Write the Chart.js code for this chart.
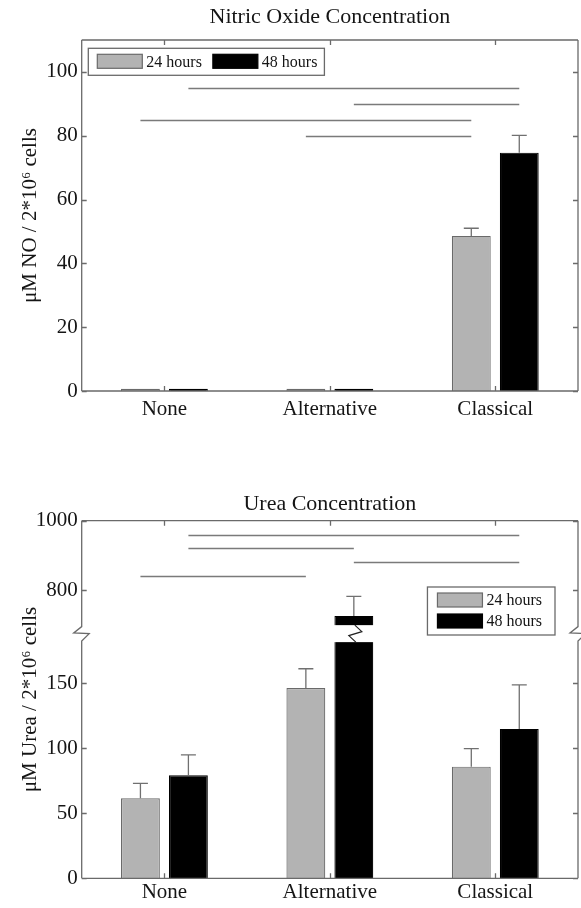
<!DOCTYPE html>
<html>
<head>
<meta charset="utf-8">
<script src="https://cdn.jsdelivr.net/npm/chart.js@4.4.0/dist/chart.umd.min.js"></script>
<style>
  body { margin: 0; background: #fff; }
  .wrap { width: 581px; height: 454px; }
  canvas { display: block; }
</style>
</head>
<body>
<div class="wrap"><canvas id="noChart" width="581" height="454"></canvas></div>
<div class="wrap"><canvas id="ureaChart" width="581" height="454"></canvas></div>
<script>
const groups = ['None', 'Alternative', 'Classical'];
const seriesNames = ['24 hours', '48 hours'];

// nitric oxide (uM / 2*10^6 cells), mean and SD
const no24 = [0.7, 0.7, 48.6];
const no48 = [0.7, 0.7, 74.7];
const no24Sd = [0, 0, 2.4];
const no48Sd = [0, 0, 5.4];
const noTicks = [0, 20, 40, 60, 80, 100];
// significance bars: [group, series] -> [group, series] at a height
const noSigFrom = [[0, 1], [1, 1], [0, 0], [1, 0]];
const noSigTo = [[2, 1], [2, 1], [2, 0], [2, 0]];
const noSigAt = [95, 90, 85, 80];

// urea (uM / 2*10^6 cells)
const urea24 = [61.5, 146.2, 85.8];
const urea48 = [79.2, 726, 114.8];
const urea24Sd = [11.5, 14.8, 13.9];
const urea48Sd = [15.6, 56, 33.9];
const ureaTicks = [0, 50, 100, 150, 800, 1000];
const ureaBreak = [188, 675]; // axis jumps from 188 to 675
const ureaSigFrom = [[0, 1], [0, 1], [1, 1], [0, 0]];
const ureaSigTo = [[2, 1], [1, 1], [2, 1], [1, 0]];
const ureaSigAt = [960, 920, 880, 840];

const INK = '#151515';
const EDGE = '#6a6a6a';
const GRAY = '#b3b3b3';

Chart.defaults.font.family = '"Liberation Serif", "Times New Roman", serif';
Chart.defaults.color = INK;

// linear scale with a cut: values between gap[0] and gap[1] are skipped,
// values above are squeezed by gapRatio
class BrokenScale extends Chart.LinearScale {
  squash(v) {
    const g = this.options.gap;
    if (!g || v <= g[0]) return v;
    if (v >= g[1]) return g[0] + (v - g[1]) * this.options.gapRatio;
    return g[0];
  }
  configure() {
    super.configure();
    this._startValue = this.squash(this.min);
    this._endValue = this.squash(this.max);
    this._valueRange = this._endValue - this._startValue;
  }
  getPixelForValue(v) {
    if (v === null || v === undefined) return NaN;
    return this.getPixelForDecimal((this.squash(v) - this._startValue) / this._valueRange);
  }
}
BrokenScale.id = 'broken';
Chart.register(BrokenScale);

const errorBars = {
  id: 'errorBars',
  afterDatasetsDraw(chart) {
    const { ctx, scales: { y } } = chart;
    ctx.save();
    ctx.strokeStyle = '#707070';
    ctx.lineWidth = 1.3;
    chart.data.datasets.forEach((ds, di) => {
      chart.getDatasetMeta(di).data.forEach((bar, i) => {
        if (!ds.sd[i]) return;
        const top = y.getPixelForValue(ds.data[i] + ds.sd[i]);
        ctx.beginPath();
        ctx.moveTo(bar.x, bar.y);
        ctx.lineTo(bar.x, top);
        ctx.moveTo(bar.x - 7.5, top);
        ctx.lineTo(bar.x + 7.5, top);
        ctx.stroke();
      });
    });
    ctx.restore();
  }
};

function sigLines(from, to, at) {
  return {
    id: 'sigLines',
    afterDatasetsDraw(chart) {
      const { ctx, scales: { y } } = chart;
      const barX = (g, s) => chart.getDatasetMeta(s).data[g].x;
      ctx.save();
      ctx.strokeStyle = '#7a7a7a';
      ctx.lineWidth = 1.3;
      ctx.beginPath();
      at.forEach((v, k) => {
        const py = Math.round(y.getPixelForValue(v)) + 0.5;
        ctx.moveTo(barX(from[k][0], from[k][1]), py);
        ctx.lineTo(barX(to[k][0], to[k][1]), py);
      });
      ctx.stroke();
      ctx.restore();
    }
  };
}

// white cut with a zigzag across bars that go past the axis break
const barBreak = {
  id: 'barBreak',
  afterDatasetsDraw(chart) {
    const { ctx, scales: { y } } = chart;
    const g = y.options.gap;
    const mid = y.getPixelForValue(g[0]);
    ctx.save();
    chart.data.datasets.forEach((ds, di) => {
      chart.getDatasetMeta(di).data.forEach((bar, i) => {
        if (ds.data[i] <= g[1]) return;
        const half = bar.width / 2 + 1;
        ctx.fillStyle = '#fff';
        ctx.fillRect(bar.x - half, mid - 8.5, half * 2, 17);
        ctx.strokeStyle = '#222';
        ctx.lineWidth = 1.2;
        ctx.beginPath();
        ctx.moveTo(bar.x + 1, mid - 8.5);
        ctx.lineTo(bar.x + 8, mid - 2);
        ctx.lineTo(bar.x - 5, mid + 2);
        ctx.lineTo(bar.x + 2, mid + 8.5);
        ctx.stroke();
      });
    });
    ctx.restore();
  }
};

// matlab style box: frame plus inward ticks on all four sides
const matlabBox = {
  id: 'matlabBox',
  afterDatasetsDraw(chart) {
    const { ctx, chartArea: a, scales: { x, y } } = chart;
    const tl = 5;
    const g = y.options.gap;
    const brk = g ? y.getPixelForValue(g[0]) : null;
    const side = (px) => {
      ctx.moveTo(px, a.top);
      if (brk !== null) {
        ctx.lineTo(px, brk - 7);
        ctx.lineTo(px - 8, brk - 0.7);
        ctx.lineTo(px + 7.5, brk);
        ctx.lineTo(px, brk + 7.5);
      }
      ctx.lineTo(px, a.bottom);
    };
    ctx.save();
    ctx.strokeStyle = EDGE;
    ctx.lineWidth = 1.3;
    ctx.beginPath();
    y.ticks.forEach(t => {
      const py = Math.round(y.getPixelForValue(t.value)) + 0.5;
      ctx.moveTo(a.left, py); ctx.lineTo(a.left + tl, py);
      ctx.moveTo(a.right, py); ctx.lineTo(a.right - tl, py);
    });
    x.ticks.forEach((t, i) => {
      const px = Math.round(x.getPixelForTick(i)) + 0.5;
      ctx.moveTo(px, a.bottom); ctx.lineTo(px, a.bottom - tl);
      ctx.moveTo(px, a.top); ctx.lineTo(px, a.top + tl);
    });
    ctx.moveTo(a.left, a.top); ctx.lineTo(a.right, a.top);
    ctx.moveTo(a.left, a.bottom); ctx.lineTo(a.right, a.bottom);
    side(a.left);
    side(a.right);
    ctx.stroke();
    ctx.restore();
  }
};

function boxLegend(o) {
  return {
    id: 'boxLegend',
    afterDraw(chart) {
      const { ctx, chartArea: a } = chart;
      const sets = chart.data.datasets;
      const pw = 45, ph = 14;
      ctx.save();
      ctx.font = '16px "Liberation Serif", serif';
      const tw = sets.map(d => ctx.measureText(d.label).width);
      let w, h;
      if (o.row) {
        w = 9 + sets.length * (pw + 4) + tw.reduce((s, v) => s + v, 0) + (sets.length - 1) * 11 + 7;
        h = 27;
      } else {
        w = 10 + pw + 5 + Math.max(...tw) + 12;
        h = 48;
      }
      const bx = o.right !== undefined ? a.right - o.right - w : a.left + o.left;
      const by = a.top + o.top;
      ctx.fillStyle = '#fff';
      ctx.fillRect(bx, by, w, h);
      ctx.strokeStyle = EDGE;
      ctx.lineWidth = 1.3;
      ctx.strokeRect(bx, by, w, h);
      ctx.textBaseline = 'middle';
      let cx = bx + (o.row ? 9 : 10);
      let cy = by + 6;
      sets.forEach((d, i) => {
        ctx.fillStyle = d.backgroundColor;
        ctx.fillRect(cx, cy, pw, ph);
        ctx.strokeStyle = d.borderColor;
        ctx.lineWidth = 1.2;
        ctx.strokeRect(cx, cy, pw, ph);
        ctx.fillStyle = INK;
        ctx.fillText(d.label, cx + pw + 4, cy + ph / 2 + 1);
        if (o.row) cx += pw + 4 + tw[i] + 11;
        else cy += ph + 7;
      });
      ctx.restore();
    }
  };
}

function xAxis(height, pad) {
  return {
    type: 'category',
    offset: true,
    grid: { display: false, drawTicks: false },
    border: { display: false },
    ticks: { font: { size: 21 }, color: INK, padding: pad, maxRotation: 0, autoSkip: false },
    afterFit: s => { s.height = height; }
  };
}

function yAxis(title, ticks) {
  return {
    grid: { display: false, drawTicks: false },
    border: { display: false },
    ticks: { font: { size: 21 }, color: INK, padding: 4, callback: v => String(v) },
    title: { display: true, text: title, font: { size: 21 }, color: INK, padding: { top: 18, bottom: 0 } },
    afterBuildTicks: s => { s.ticks = ticks.map(v => ({ value: v })); },
    afterFit: s => { s.width = 81.7; }
  };
}

function datasets(a, aSd, b, bSd) {
  return [
    { label: seriesNames[0], data: a, sd: aSd, backgroundColor: GRAY, borderColor: EDGE, borderWidth: 1.2 },
    { label: seriesNames[1], data: b, sd: bSd, backgroundColor: '#000', borderColor: '#000', borderWidth: 1.2 }
  ];
}

new Chart(document.getElementById('noChart'), {
  type: 'bar',
  data: { labels: groups, datasets: datasets(no24, no24Sd, no48, no48Sd) },
  options: {
    responsive: false,
    animation: false,
    layout: { padding: { right: 3 } },
    datasets: { bar: { categoryPercentage: 0.58, barPercentage: 0.81 } },
    plugins: {
      legend: { display: false },
      tooltip: { enabled: false },
      title: {
        display: true, text: 'Nitric Oxide Concentration', fullSize: false,
        font: { size: 22, weight: 'normal' }, color: INK, padding: { top: 4, bottom: 9.6 }
      }
    },
    scales: {
      x: xAxis(63, 6),
      y: Object.assign(yAxis('μM NO / 2*10⁶ cells', noTicks), { min: 0, max: 110 })
    }
  },
  plugins: [errorBars, sigLines(noSigFrom, noSigTo, noSigAt), matlabBox, boxLegend({ row: true, left: 6.6, top: 8.3 })]
});

new Chart(document.getElementById('ureaChart'), {
  type: 'bar',
  data: { labels: groups, datasets: datasets(urea24, urea24Sd, urea48, urea48Sd) },
  options: {
    responsive: false,
    animation: false,
    layout: { padding: { right: 3 } },
    datasets: { bar: { categoryPercentage: 0.58, barPercentage: 0.81 } },
    plugins: {
      legend: { display: false },
      tooltip: { enabled: false },
      title: {
        display: true, text: 'Urea Concentration', fullSize: false,
        font: { size: 22, weight: 'normal' }, color: INK, padding: { top: 36.8, bottom: 3.5 }
      }
    },
    scales: {
      x: xAxis(29.7, 2),
      y: Object.assign(yAxis('μM Urea / 2*10⁶ cells', ureaTicks),
        { type: 'broken', min: 0, max: 1000, gap: ureaBreak, gapRatio: 0.267 })
    }
  },
  plugins: [barBreak, errorBars, sigLines(ureaSigFrom, ureaSigTo, ureaSigAt), matlabBox, boxLegend({ right: 23, top: 66.3 })]
});
</script>
</body>
</html>
